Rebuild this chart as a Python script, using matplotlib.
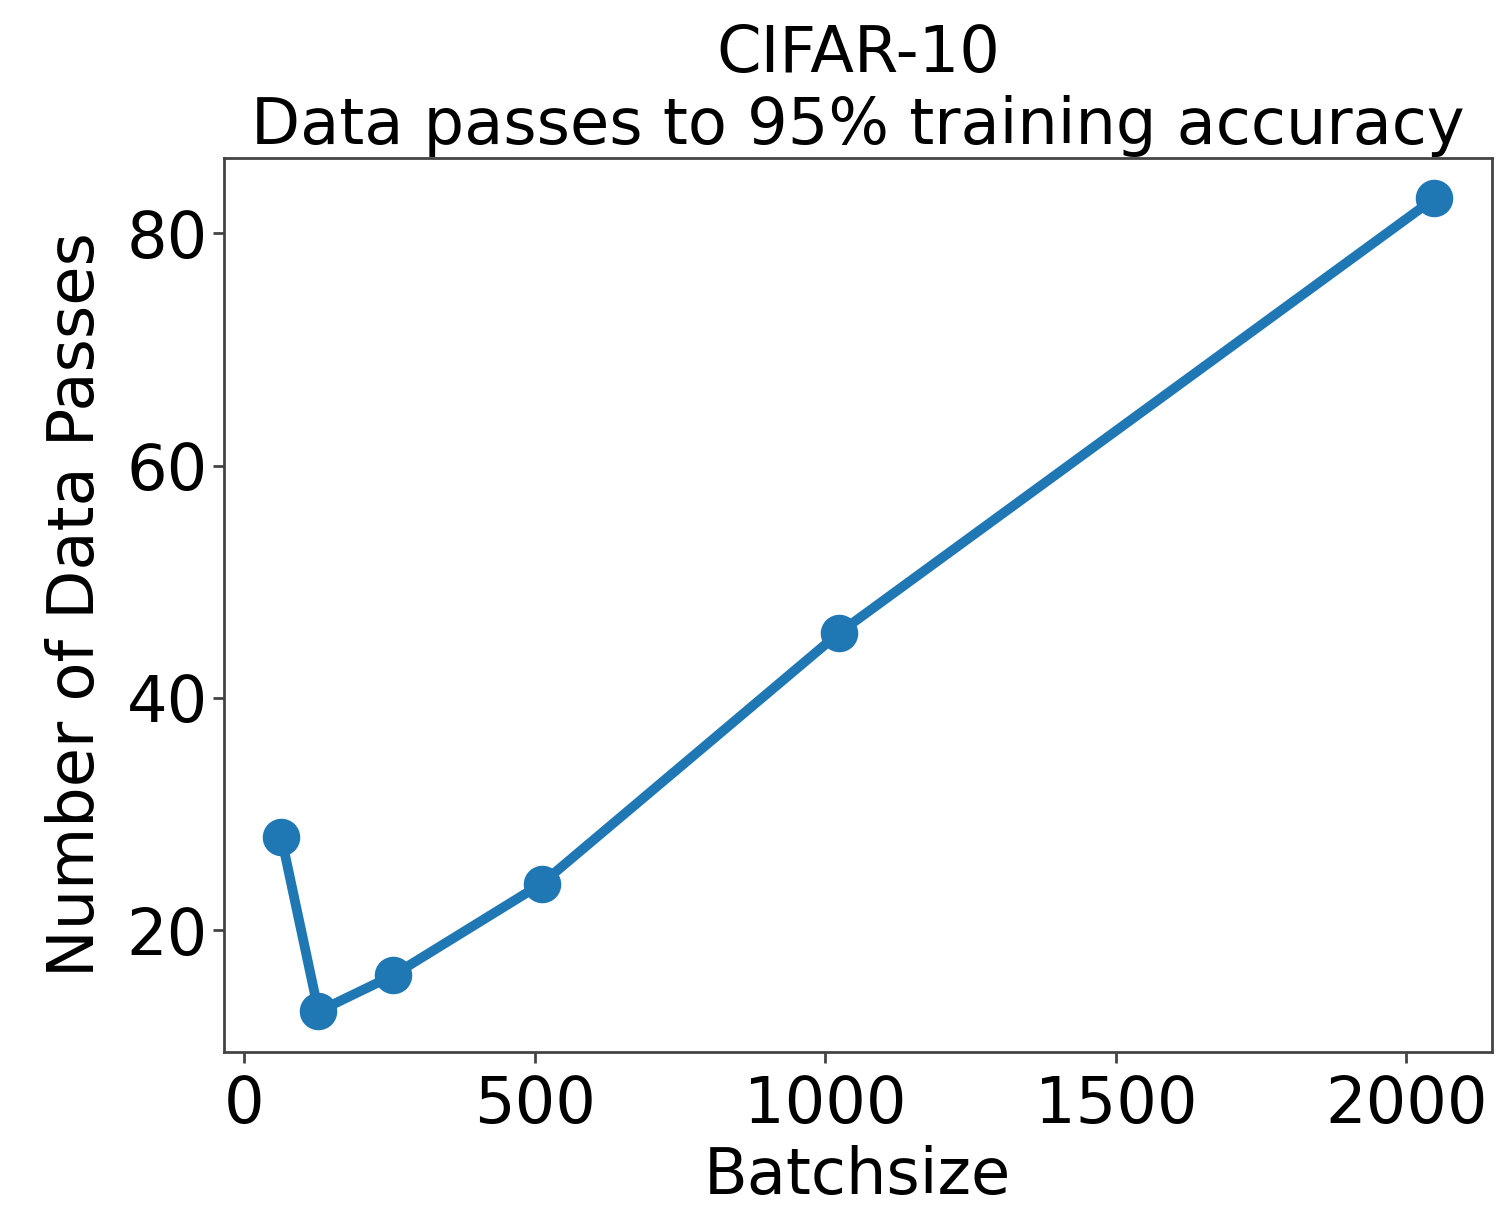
import matplotlib
matplotlib.use("Agg")
import matplotlib.pyplot as plt

batchsizes = [64, 128, 256, 512, 1024, 2048]
data_passes = [28.0, 13.0, 16.1, 24.0, 45.6, 83.0]

TITLE = "CIFAR-10\nData passes to 95% training accuracy"
XLABEL = "Batchsize"
YLABEL = "Number of Data Passes"


def main():
    fig = plt.figure(figsize=(15.01, 12.14), dpi=100)
    ax = fig.add_axes([0.149, 0.1334, 0.845, 0.7366])

    ax.plot(batchsizes, data_passes, color="#1f77b4", linewidth=7,
            marker="o", markersize=26)

    ax.set_title(TITLE, fontsize=46, pad=10, linespacing=1.2)
    ax.set_xlabel(XLABEL, fontsize=46, labelpad=6)
    ax.set_ylabel(YLABEL, fontsize=46, labelpad=14)
    ax.set_xticks([0, 500, 1000, 1500, 2000])
    ax.set_yticks([20, 40, 60, 80])
    ax.tick_params(labelsize=46, length=8, width=2, color="#444444")
    ax.tick_params(axis="x", pad=8)
    for spine in ax.spines.values():
        spine.set_color("#444444")
        spine.set_linewidth(2)

    fig.savefig("out.png", dpi=100)


if __name__ == "__main__":
    main()
